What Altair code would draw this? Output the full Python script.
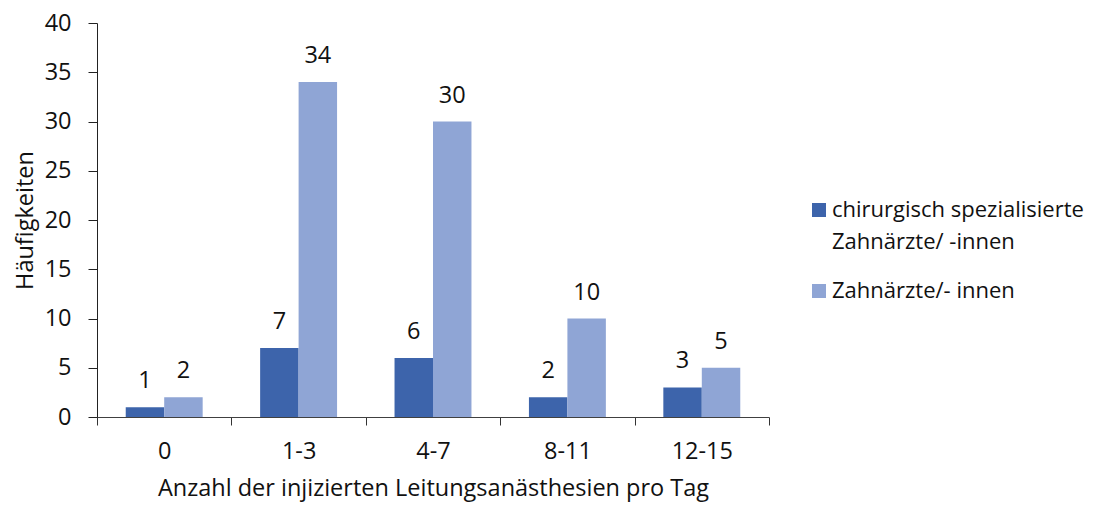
import altair as alt
import pandas as pd

categories = ["0", "1-3", "4-7", "8-11", "12-15"]
series_names = ["chirurgisch spezialisierte\nZahnärzte/ -innen", "Zahnärzte/- innen"]
chirurgisch = [1, 7, 6, 2, 3]
zahnaerzte = [2, 34, 30, 10, 5]
colors = ["#3D64AB", "#8FA5D5"]

rows = []
for i, c in enumerate(categories):
    rows.append({"cat": c, "series": series_names[0], "value": chirurgisch[i]})
    rows.append({"cat": c, "series": series_names[1], "value": zahnaerzte[i]})
df = pd.DataFrame(rows)

FONT = "Open Sans"
FS = 23.5
LFS = 22

x = alt.X("cat:N", sort=categories, title="Anzahl der injizierten Leitungsanästhesien pro Tag",
          scale=alt.Scale(paddingInner=0, paddingOuter=0),
          axis=alt.Axis(labelAngle=0, tickBand="extent", tickSize=8, tickColor="#333",
                        domainColor="#404040", labelPadding=14, titlePadding=14))
xo = alt.XOffset("series:N", sort=series_names,
                 scale=alt.Scale(paddingInner=0, paddingOuter=0.747))
y = alt.Y("value:Q", title="Häufigkeiten",
          scale=alt.Scale(domain=[0, 40], nice=False),
          axis=alt.Axis(values=list(range(0, 41, 5)), tickSize=9, tickColor="#222",
                        domainColor="#222", grid=False, labelPadding=17, titlePadding=7))

bars = alt.Chart(df).mark_bar().encode(
    x=x, xOffset=xo, y=y,
    color=alt.Color("series:N", sort=series_names,
                    scale=alt.Scale(domain=series_names, range=colors),
                    legend=alt.Legend(title=None, orient="none", legendX=711, legendY=176,
                                      symbolType="square", symbolSize=196, symbolStrokeWidth=0,
                                      labelExpr="split(datum.label, '\\n')",
                                      labelFontSize=LFS, labelFont=FONT, labelColor="#111",
                                      rowPadding=27, symbolOffset=0, labelOffset=2,
                                      labelBaseline="middle", labelLimit=400))
)

labels = alt.Chart(df).mark_text(baseline="bottom", dy=-14, fontSize=FS, font=FONT, color="#111").encode(
    x=x, xOffset=xo, y=y, text="value:Q"
)

chart = alt.layer(bars, labels).properties(
    width=672, height=394,
    autosize=alt.AutoSizeParams(type="none"),
    padding={"left": 89, "top": 15, "right": 326, "bottom": 88},
).configure(
    style={"guide-label": {"lineHeight": 32}}
).configure_view(stroke=None).configure_axis(
    labelFont=FONT, titleFont=FONT, labelFontSize=FS, titleFontSize=FS,
    labelColor="#111", titleColor="#111", titleFontWeight="normal"
)

chart.save("out.html", embed_options={"renderer": "svg", "actions": False})
